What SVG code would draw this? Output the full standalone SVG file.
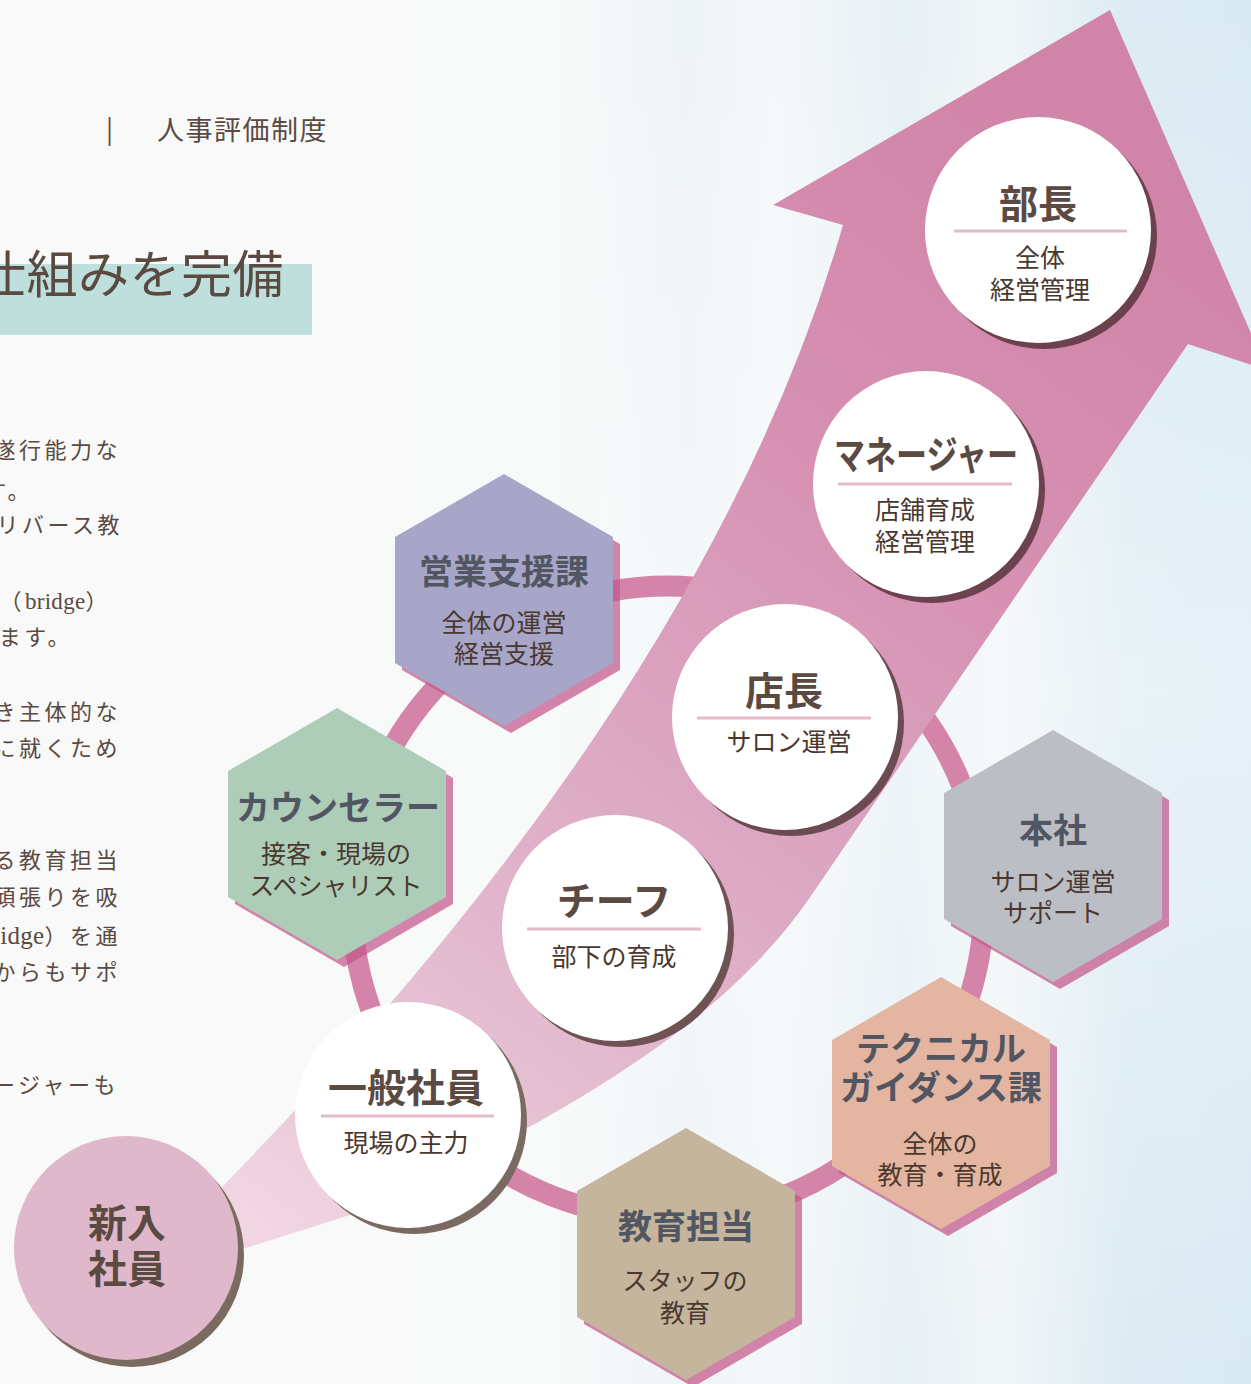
<svg xmlns="http://www.w3.org/2000/svg" xmlns:xlink="http://www.w3.org/1999/xlink" width="1251" height="1384" viewBox="0 0 1251 1384">
<defs>
<style>
.hdr{font-family:"Noto Sans CJK JP","Noto Sans",sans-serif;font-weight:400;fill:#5a4a42}
.body{font-family:"Noto Sans CJK JP","Noto Sans",sans-serif;font-size:22px;letter-spacing:3.5px;fill:#5a4a42;text-anchor:end}
.lat{font-family:"Liberation Serif",serif;letter-spacing:0.3px;font-size:23px}
.ct{font-family:"Noto Sans CJK JP","Noto Sans",sans-serif;font-weight:700;font-size:39px;fill:#5a4a42;text-anchor:middle}
.ht{font-family:"Noto Sans CJK JP","Noto Sans",sans-serif;font-weight:700;font-size:34px;fill:#525662;text-anchor:middle}
.sub{font-family:"Noto Sans CJK JP","Noto Sans",sans-serif;font-weight:400;font-size:25px;fill:#4a382e;text-anchor:middle}
.hsh{fill:#c4568a;opacity:0.72}
.rule{stroke:#e4bacd;stroke-width:3}
.wc{fill:#ffffff}
</style>
<polygon id="hex" points="0,-126 109,-63 109,63 0,126 -109,63 -109,-63"/>
<linearGradient id="bg" x1="0" y1="0" x2="1" y2="0">
<stop offset="0" stop-color="#f9f9f9"/>
<stop offset="0.45" stop-color="#f8f9f9"/>
<stop offset="0.55" stop-color="#eef4f7"/>
<stop offset="0.62" stop-color="#f5f8f9"/>
<stop offset="0.72" stop-color="#e6f0f5"/>
<stop offset="0.8" stop-color="#f1f6f8"/>
<stop offset="0.9" stop-color="#dcebf3"/>
<stop offset="1" stop-color="#d9eaf3"/>
</linearGradient>
<linearGradient id="bgv" x1="0" y1="0" x2="0" y2="1">
<stop offset="0" stop-color="#ffffff" stop-opacity="0"/>
<stop offset="0.5" stop-color="#ffffff" stop-opacity="0.35"/>
<stop offset="1" stop-color="#ffffff" stop-opacity="0"/>
</linearGradient>
<linearGradient id="arrowG" gradientUnits="userSpaceOnUse" x1="1080" y1="120" x2="260" y2="1220">
<stop offset="0" stop-color="#d084a8"/>
<stop offset="0.3" stop-color="#d690b2"/>
<stop offset="0.6" stop-color="#ddaac4"/>
<stop offset="0.85" stop-color="#e7c4d5"/>
<stop offset="1" stop-color="#f1d5e2"/>
</linearGradient>
</defs>

<rect x="0" y="0" width="1251" height="1384" fill="url(#bg)"/>
<rect x="600" y="0" width="651" height="1384" fill="url(#bgv)"/>

<g id="header">
<text class="hdr" x="106" y="139" font-size="26">|</text>
<text class="hdr" x="157" y="140" font-size="27" letter-spacing="1.5">人事評価制度</text>
</g>

<g id="title">
<rect x="0" y="264" width="312" height="71" fill="#bfdfdc"/>
<text class="hdr" x="-25" y="293" font-size="51" letter-spacing="0.5">仕組みを完備</text>
</g>

<g id="bodytext">
<text class="body" x="121" y="458">遂行能力な</text>
<text class="body" x="33" y="499">す。</text>
<text class="body" x="123" y="533">リバース教</text>
<text class="body" x="111" y="609">（<tspan class="lat">bridge</tspan>）</text>
<text class="body" x="73" y="645">ます。</text>
<text class="body" x="121" y="720">き主体的な</text>
<text class="body" x="121" y="756">に就くため</text>
<text class="body" x="121" y="868">る教育担当</text>
<text class="body" x="121" y="905">頑張りを吸</text>
<text class="body" x="121" y="944"><tspan class="lat" style="font-size:25px">idge</tspan>）を通</text>
<text class="body" x="121" y="980">からもサポ</text>
<text class="body" x="119" y="1093">ージャーも</text>
</g>

<g id="connectors">
<circle id="ring" cx="668" cy="902" r="316" fill="none" stroke="#d484a8" stroke-width="21"/>
<path id="arrow" fill="url(#arrowG)" d="M1110,10 L1267,370 L1188,344 L815,890 C745,995 620,1095 350,1215 L240,1250 L215,1194 Q708,692 843,225 L773,205 Z"/>
</g>

<g id="node-eigyo">
<use xlink:href="#hex" x="511" y="607" class="hsh"/>
<use xlink:href="#hex" x="504" y="600" fill="#a8a6c8"/>
<text class="ht" x="504" y="584">営業支援課</text>
<text class="sub" x="504" y="632">全体の運営</text>
<text class="sub" x="504" y="663">経営支援</text>
</g>

<g id="node-counselor">
<use xlink:href="#hex" x="344" y="841" class="hsh"/>
<use xlink:href="#hex" x="337" y="834" fill="#adcdb9"/>
<text class="ht" x="338" y="820">カウンセラー</text>
<text class="sub" x="336" y="863">接客・現場の</text>
<text class="sub" x="336" y="895">スペシャリスト</text>
</g>

<g id="node-honsha">
<use xlink:href="#hex" x="1060" y="863" class="hsh"/>
<use xlink:href="#hex" x="1053" y="856" fill="#bcbec6"/>
<text class="ht" x="1053" y="843">本社</text>
<text class="sub" x="1053" y="891">サロン運営</text>
<text class="sub" x="1053" y="922">サポート</text>
</g>

<g id="node-technical">
<use xlink:href="#hex" x="948" y="1110" class="hsh"/>
<use xlink:href="#hex" x="941" y="1103" fill="#e4b5a0"/>
<text class="ht" x="941" y="1061">テクニカル</text>
<text class="ht" x="941" y="1100">ガイダンス課</text>
<text class="sub" x="940" y="1153">全体の</text>
<text class="sub" x="940" y="1184">教育・育成</text>
</g>

<g id="node-kyoiku">
<use xlink:href="#hex" x="693" y="1261" class="hsh"/>
<use xlink:href="#hex" x="686" y="1254" fill="#c4b59c"/>
<text class="ht" x="686" y="1239">教育担当</text>
<text class="sub" x="685" y="1290">スタッフの</text>
<text class="sub" x="685" y="1322">教育</text>
</g>

<g id="node-bucho">
<circle cx="1044" cy="236" r="113" fill="#6c404c"/>
<circle cx="1038" cy="230" r="113" class="wc"/>
<text class="ct" x="1038" y="218">部長</text>
<line class="rule" x1="954" y1="231" x2="1127" y2="231"/>
<text class="sub" x="1040" y="267">全体</text>
<text class="sub" x="1040" y="299">経営管理</text>
</g>

<g id="node-manager">
<circle cx="932" cy="490" r="113" fill="#6c424e"/>
<circle cx="926" cy="484" r="113" class="wc"/>
<text class="ct" x="926" y="469" font-size="36" textLength="184" lengthAdjust="spacingAndGlyphs">マネージャー</text>
<line class="rule" x1="838" y1="484" x2="1012" y2="484"/>
<text class="sub" x="925" y="519">店舗育成</text>
<text class="sub" x="925" y="551">経営管理</text>
</g>

<g id="node-tencho">
<circle cx="791" cy="723" r="113" fill="#6c4a52"/>
<circle cx="785" cy="717" r="113" class="wc"/>
<text class="ct" x="784" y="705">店長</text>
<line class="rule" x1="697" y1="718" x2="871" y2="718"/>
<text class="sub" x="789" y="751">サロン運営</text>
</g>

<g id="node-chief">
<circle cx="621" cy="934" r="113" fill="#6e5254"/>
<circle cx="615" cy="928" r="113" class="wc"/>
<text class="ct" x="614" y="915">チーフ</text>
<line class="rule" x1="527" y1="929" x2="701" y2="929"/>
<text class="sub" x="614" y="966">部下の育成</text>
</g>

<g id="node-ippan">
<circle cx="414" cy="1121" r="113" fill="#7a6a62"/>
<circle cx="408" cy="1115" r="113" class="wc"/>
<text class="ct" x="406" y="1102">一般社員</text>
<line class="rule" x1="321" y1="1116" x2="494" y2="1116"/>
<text class="sub" x="406" y="1152">現場の主力</text>
</g>

<g id="node-shinnyu">
<circle cx="132" cy="1255" r="112" fill="#7a6a60"/>
<circle cx="126" cy="1248" r="112" fill="#e0b8cb"/>
<text class="ct" x="127" y="1237">新入</text>
<text class="ct" x="127" y="1283">社員</text>
</g>
</svg>
